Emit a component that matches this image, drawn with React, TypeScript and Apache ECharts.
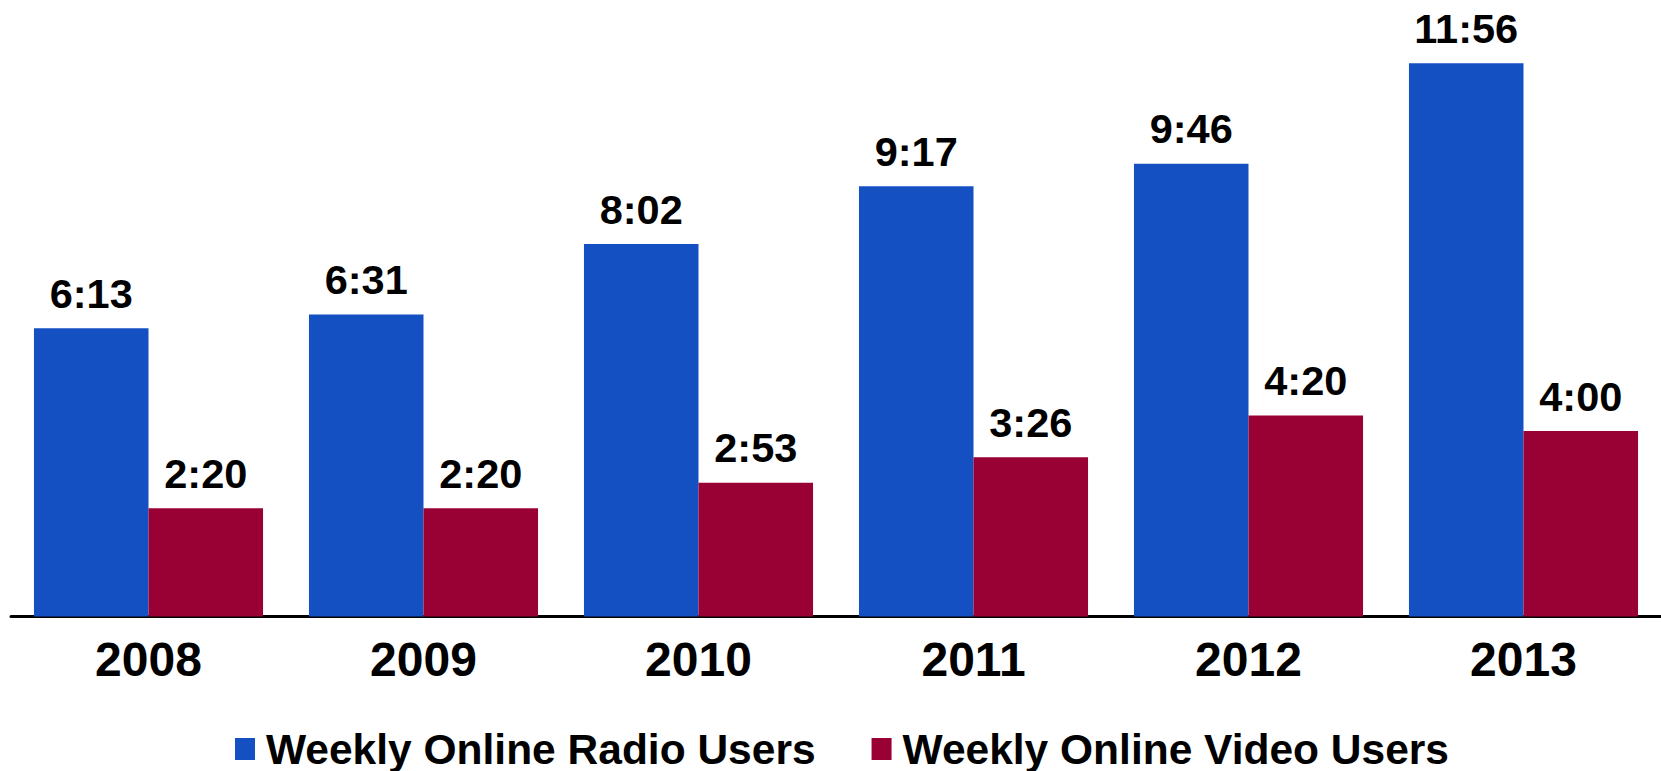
import React, { useEffect, useRef } from "react";
import * as echarts from "echarts";

const years = ["2008", "2009", "2010", "2011", "2012", "2013"];
const radioTimes = ["6:13", "6:31", "8:02", "9:17", "9:46", "11:56"];
const videoTimes = ["2:20", "2:20", "2:53", "3:26", "4:20", "4:00"];
const seriesNames = ["Weekly Online Radio Users", "Weekly Online Video Users"];

const toMinutes = (t: string) => {
  const [h, m] = t.split(":").map(Number);
  return h * 60 + m;
};
const toLabel = (v: number) => {
  const h = Math.floor(v / 60);
  const m = Math.round(v - h * 60);
  return `${h}:${m < 10 ? "0" + m : m}`;
};

const FONT = "'Liberation Sans', Arial, sans-serif";

export default function App() {
  const ref = useRef<HTMLDivElement>(null);
  useEffect(() => {
    document.body.style.margin = "0";
    const chart = echarts.init(ref.current!, null, { renderer: "svg" });
    const label = {
      show: true,
      position: "top" as const,
      distance: 14,
      fontSize: 41.5,
      fontWeight: "bold" as const,
      fontFamily: FONT,
      color: "#000",
      formatter: (p: any) => toLabel(p.value),
    };
    chart.setOption({
      animation: false,
      backgroundColor: "#fff",
      grid: { left: 11, right: 0, top: 10, bottom: 154.5, containLabel: false },
      legend: {
        left: 230,
        top: 722,
        itemWidth: 20,
        itemHeight: 22,
        itemGap: 56,
        icon: "rect",
        textStyle: {
          fontSize: 42.5,
          fontWeight: "bold",
          fontFamily: FONT,
          color: "#000",
          padding: [0, 0, 0, 6],
          lineHeight: 44,
        },
        data: seriesNames,
      },
      xAxis: {
        type: "category",
        data: years,
        axisLine: { lineStyle: { color: "#000", width: 3 } },
        axisTick: { show: false },
        axisLabel: { fontSize: 48, fontWeight: "bold", fontFamily: FONT, color: "#000", margin: 19 },
      },
      yAxis: { type: "value", min: 0, max: 785, show: false, splitLine: { show: false } },
      series: [
        {
          name: seriesNames[0],
          type: "bar",
          data: radioTimes.map(toMinutes),
          barGap: "0%",
          barCategoryGap: "16.7%",
          itemStyle: { color: "#1550C3" },
          label,
        },
        {
          name: seriesNames[1],
          type: "bar",
          data: videoTimes.map(toMinutes),
          barGap: "0%",
          barCategoryGap: "16.7%",
          itemStyle: { color: "#990033" },
          label,
        },
      ],
    });
    return () => chart.dispose();
  }, []);
  return <div ref={ref} style={{ width: 1661, height: 771 }} />;
}
